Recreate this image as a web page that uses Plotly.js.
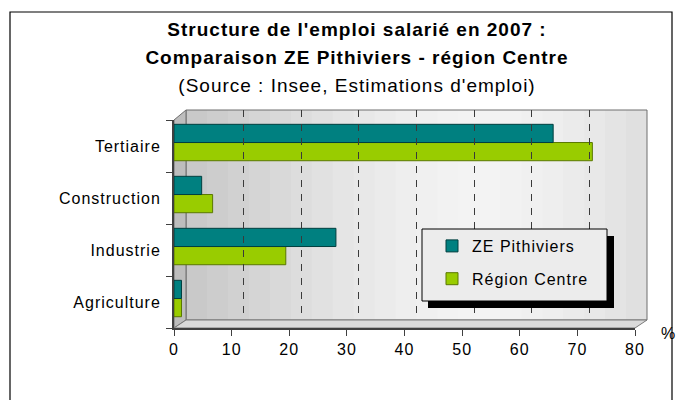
<!DOCTYPE html>
<html>
<head>
<meta charset="utf-8">
<script src="https://cdn.plot.ly/plotly-3.0.1.min.js"></script>
<style>
html,body{margin:0;padding:0;background:#fff;}
#chart{width:680px;height:400px;}
.main-svg text, #js-plotly-tester text{letter-spacing:1px;}
</style>
</head>
<body>
<div id="chart"></div>
<script>
// ---- data ----
const categories = ["Agriculture", "Industrie", "Construction", "Tertiaire"];
const zePithiviers = [1.3, 28.1, 4.8, 65.8];
const regionCentre = [1.3, 19.4, 6.7, 72.6];
const xTickVals = [0, 10, 20, 30, 40, 50, 60, 70, 80];
const xTickText = ["0", "10", "20", "30", "40", "50", "60", "70", "80"];
const seriesNames = ["ZE Pithiviers", "Région Centre"];
const titleLines = [
  "Structure de l'emploi salarié en 2007 :",
  "Comparaison ZE Pithiviers - région Centre",
  "(Source : Insee, Estimations d'emploi)"
];
const unitLabel = "%";

// ---- styling ----
const FONT = "Liberation Sans, Arial, sans-serif";
const wallColors = ['#c9c9c9','#cdcdcd','#d1d1d1','#d5d5d5','#d9d9d9','#dddddd','#e1e1e1','#e5e5e5','#e8e8e8','#ebebeb',
  '#eeeeee','#f0f0f0','#f2f2f2','#f3f3f3','#f3f3f3','#f2f2f2','#f0f0f0','#eeeeee','#ebebeb','#e8e8e8','#e4e4e4','#e0e0e0'];

// paper helpers (plot area: x 174..647 px, y 110..328 px)
const PX = px => (px - 174) / 473;
const PY = py => (328 - py) / 218;

const shapes = [];
// back wall strips
const wx0 = PX(186), wx1 = PX(647);
wallColors.forEach((c, i) => {
  const a = wx0 + (wx1 - wx0) * i / wallColors.length;
  const b = wx0 + (wx1 - wx0) * (i + 1) / wallColors.length + 0.002;
  shapes.push({type:'rect', xref:'paper', yref:'paper', x0:a, x1:Math.min(b, wx1), y0:PY(320), y1:PY(110),
    fillcolor:c, line:{width:0}, layer:'below'});
});
// back wall outline
shapes.push({type:'rect', xref:'paper', yref:'paper', x0:wx0, x1:wx1, y0:PY(320), y1:PY(110),
  fillcolor:'rgba(0,0,0,0)', line:{color:'#6e6e6e', width:1}, layer:'below'});
// left wall
shapes.push({type:'path', xref:'paper', yref:'paper', layer:'below',
  path:`M ${PX(174)} ${PY(120)} L ${PX(186)} ${PY(110)} L ${PX(186)} ${PY(320)} L ${PX(174)} ${PY(328)} Z`,
  fillcolor:'#bdbdbd', line:{color:'#6e6e6e', width:1}});
// floor
shapes.push({type:'path', xref:'paper', yref:'paper', layer:'below',
  path:`M ${PX(174)} ${PY(328)} L ${PX(186)} ${PY(320)} L ${PX(647)} ${PY(320)} L ${PX(635)} ${PY(328)} Z`,
  fillcolor:'#dadada', line:{color:'#7a7a7a', width:1}});
// legend shadow + box
shapes.push({type:'rect', xref:'paper', yref:'paper', layer:'above',
  x0:PX(428), x1:PX(614), y0:PY(308), y1:PY(236), fillcolor:'#000000', line:{width:0}});
shapes.push({type:'rect', xref:'paper', yref:'paper', layer:'above',
  x0:PX(422), x1:PX(607), y0:PY(301), y1:PY(229), fillcolor:'#ececec', line:{color:'#000000', width:1}});
// outer frame
shapes.push({type:'rect', xref:'paper', yref:'paper', layer:'above',
  x0:PX(10), x1:PX(672), y0:PY(420), y1:PY(12), fillcolor:'rgba(0,0,0,0)', line:{color:'#000000', width:1.2}});

const traces = [
  {
    type:'bar', orientation:'h', name:seriesNames[1], y:categories, x:regionCentre,
    width:0.35, offset:-0.283,
    marker:{color:'#99cc00', line:{color:'#5a7800', width:1}},
    legendgroup:'rc', legendrank:2, hoverinfo:'x+name'
  },
  {
    type:'bar', orientation:'h', name:seriesNames[0], y:categories, x:zePithiviers,
    width:0.35, offset:0.067,
    marker:{color:'#008080', line:{color:'#003f3f', width:1}},
    legendgroup:'ze', legendrank:1, hoverinfo:'x+name'
  },
  { type:'scatter', x:[], y:[], xaxis:'x2', yaxis:'y2', showlegend:false, hoverinfo:'skip' }
];

const titleText = titleLines.map((t, i) =>
  `<span style="font-size:19px">${i < 2 ? '<b>' + t + '</b>' : t}</span>`).join('<br>');

const layout = {
  width:680, height:400,
  margin:{l:174, r:33, t:110, b:72, pad:0},
  paper_bgcolor:'#ffffff', plot_bgcolor:'rgba(0,0,0,0)',
  font:{family:FONT, size:16, color:'#000000'},
  title:{text:titleText, font:{family:FONT, size:21.5, color:'#000000'},
    x:0.525, xref:'container', xanchor:'center', y:0.91, yref:'container', yanchor:'top'},
  barmode:'overlay',
  xaxis:{domain:[0, PX(635)], range:[0, 80], tickvals:xTickVals, ticktext:xTickText,
    showgrid:false, zeroline:false, showline:true, linecolor:'#404040', linewidth:2,
    ticks:'outside', ticklen:6, tickcolor:'#404040', tickwidth:1,
    tickfont:{family:FONT, size:16, color:'#000'}, anchor:'y', fixedrange:true},
  yaxis:{domain:[0, PY(120)], type:'category', categoryorder:'array', categoryarray:categories,
    range:[-0.5, 3.5], showgrid:false, zeroline:false, showline:true, linecolor:'#404040', linewidth:2,
    ticks:'outside', ticklen:6, tickcolor:'#404040', tickson:'boundaries', ticklabelstandoff:8,
    tickfont:{family:FONT, size:16, color:'#000'}, anchor:'x', fixedrange:true},
  xaxis2:{domain:[wx0, 1], range:[0, 80], anchor:'y2', tickvals:[10,20,30,40,50,60,70],
    showticklabels:false, ticks:'', showline:false, zeroline:false,
    showgrid:true, gridcolor:'#3a3a3a', gridwidth:1, griddash:'7px,7px', fixedrange:true},
  yaxis2:{domain:[PY(320), 1], range:[0, 1], anchor:'x2', visible:false, fixedrange:true},
  showlegend:true,
  legend:{x:PX(432), xanchor:'left', y:PY(229), yanchor:'top', bgcolor:'rgba(0,0,0,0)', borderwidth:0,
    font:{family:FONT, size:16, color:'#000'}, tracegroupgap:9, traceorder:'grouped'},
  annotations:[{text:unitLabel, xref:'paper', yref:'paper', x:PX(668), y:PY(333),
    xanchor:'center', yanchor:'middle', showarrow:false, font:{family:FONT, size:16, color:'#000'}}],
  shapes:shapes
};

Plotly.newPlot('chart', traces, layout, {displayModeBar:false, staticPlot:true});
</script>
</body>
</html>
